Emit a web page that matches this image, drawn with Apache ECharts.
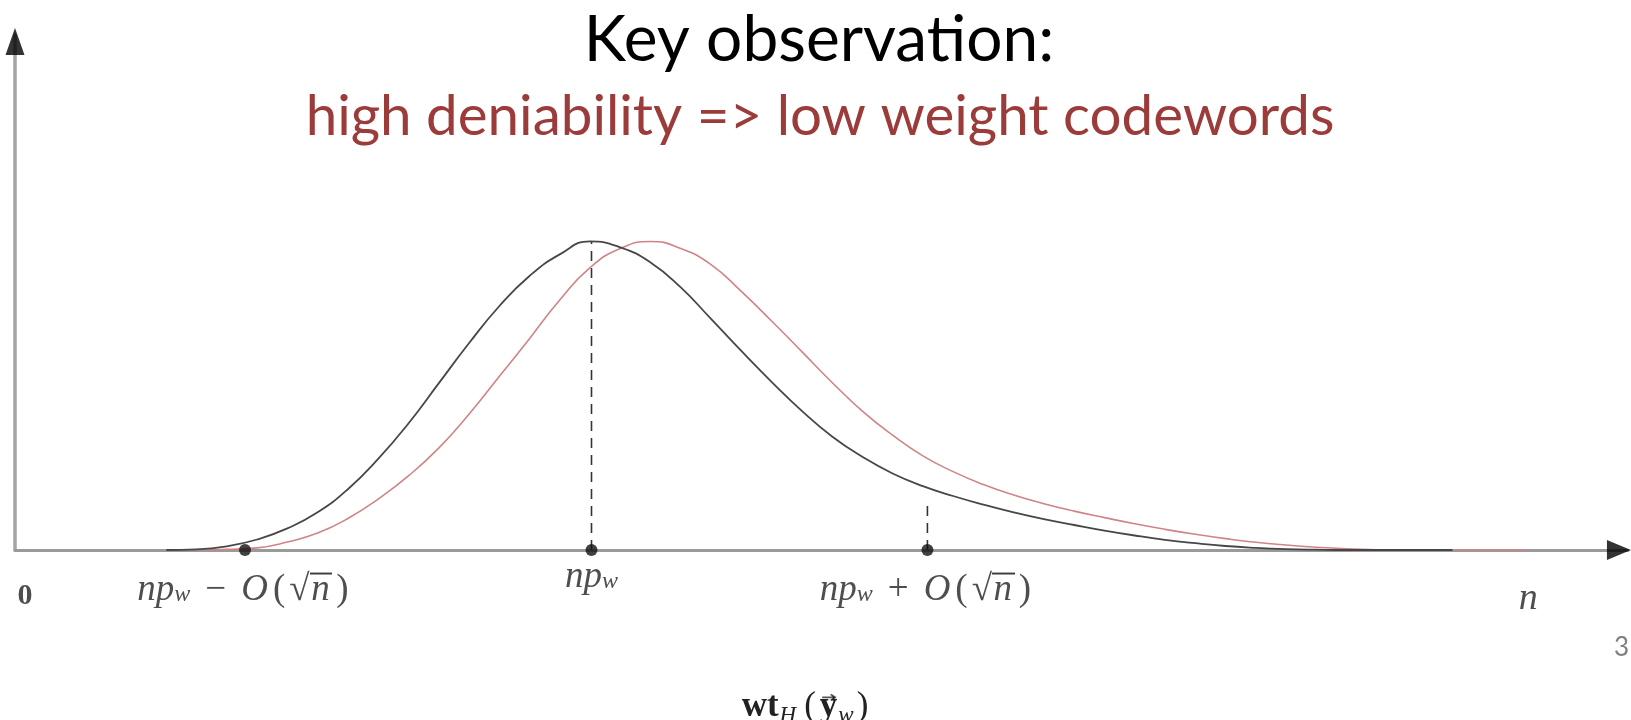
<!DOCTYPE html>
<html>
<head>
<meta charset="utf-8">
<script src="https://cdn.jsdelivr.net/npm/echarts@6/dist/echarts.min.js"></script>
<style>
  html, body { margin: 0; padding: 0; background: #ffffff; }
  #main { width: 1631px; height: 720px; }
</style>
</head>
<body>
<div id="main"></div>
<script>
// Hamming-weight distribution of the received word without (black) and with (red) a codeword
const blackX = [10, 12, 14, 16, 18, 20, 22, 24, 26, 28, 30, 32, 34, 36, 38, 40, 42, 44, 46, 48, 50, 52, 54, 56, 58, 60, 62, 64, 66, 68, 70, 72, 74, 76, 78, 80, 82, 84, 86, 88, 95];
const blackY = [0, 0.002, 0.012, 0.034, 0.070, 0.122, 0.197, 0.295, 0.410, 0.540, 0.670, 0.790, 0.888, 0.958, 1.0, 0.981, 0.932, 0.851, 0.749, 0.645, 0.545, 0.451, 0.368, 0.302, 0.248, 0.207, 0.175, 0.147, 0.122, 0.100, 0.081, 0.063, 0.047, 0.033, 0.022, 0.013, 0.007, 0.003, 0.001, 0, 0];
const redX = [10, 12, 14, 16, 18, 20, 22, 24, 26, 28, 30, 32, 34, 36, 38, 40, 42, 44, 46, 48, 50, 52, 54, 56, 58, 60, 62, 64, 66, 68, 70, 72, 74, 76, 78, 80, 82, 84, 86, 88, 90, 92, 100];
const redY = [0, 0, 0.002, 0.007, 0.026, 0.055, 0.102, 0.165, 0.240, 0.330, 0.440, 0.562, 0.685, 0.810, 0.915, 0.977, 1.0, 0.977, 0.925, 0.838, 0.742, 0.643, 0.543, 0.450, 0.372, 0.305, 0.254, 0.212, 0.178, 0.150, 0.126, 0.105, 0.085, 0.067, 0.051, 0.037, 0.025, 0.016, 0.009, 0.004, 0.001, 0, 0];

// Marked weights on the horizontal axis and their labels
const markX = [15.2, 38.1, 60.3];
const markLabels = [
  '{i|np}{s|w}{op|−}{c|O}{p|(}{r|√}{o|n}{p|)}',
  '{i|np}{s|w}',
  '{i|np}{s|w}{op|+}{c|O}{p|(}{r|√}{o|n}{p|)}'
];
// Dashed guides: x position and height reached
const guideX = [38.1, 60.3];
const guideTop = [1.0, 0.152];

// Ends of the horizontal axis
const endX = [0, 100];
const endLabels = ['0', 'n'];

const titleText = 'Key observation:';
const subtitleText = 'high deniability => low weight codewords';
const axisName = '{b|wt}{h|H}{p|(}{y|y}{s|w}{p|)}';
const pageNumber = '3';

const X_MAX = 106.6;
const Y_MAX = 1.669;

const serif = 'Liberation Serif';
const ink = '#222';

// Small stretched images used as an overline (for the square root) and a vector arrow
function overlineImage(h, y0, thick) {
  const c = document.createElement('canvas');
  c.width = 20; c.height = h;
  const g = c.getContext('2d');
  g.fillStyle = ink;
  g.fillRect(0, y0, 20, thick);
  return c;
}
function arrowImage(w, h, y0) {
  const c = document.createElement('canvas');
  c.width = w; c.height = h;
  const g = c.getContext('2d');
  g.strokeStyle = ink; g.lineWidth = 1.6;
  g.beginPath();
  g.moveTo(3, y0); g.lineTo(w - 3, y0);
  g.moveTo(w - 7, y0 - 3.5); g.lineTo(w - 3, y0); g.lineTo(w - 7, y0 + 3.5);
  g.stroke();
  return c;
}

const LH = 34;
const FS = 37;
const mathRich = {
  i: { fontFamily: serif, fontStyle: 'italic', fontSize: FS, lineHeight: LH, verticalAlign: 'middle', color: ink },
  c: { fontFamily: serif, fontStyle: 'italic', fontSize: FS, lineHeight: LH, verticalAlign: 'middle', color: ink, padding: [0, 1, 0, 0] },
  r: { fontFamily: serif, fontSize: FS, lineHeight: LH, verticalAlign: 'middle', color: ink },
  p: { fontFamily: serif, fontSize: FS, lineHeight: LH, verticalAlign: 'middle', color: ink, padding: [0, 4, 0, 4] },
  op: { fontFamily: serif, fontSize: FS, lineHeight: LH, verticalAlign: 'middle', color: ink, padding: [0, 15, 0, 15] },
  o: {
    fontFamily: serif, fontStyle: 'italic', fontSize: FS, lineHeight: LH, verticalAlign: 'middle', color: ink,
    padding: [0, 1, 0, 0],
    backgroundColor: { image: overlineImage(LH, 1, 1.6) }
  },
  s: { fontFamily: serif, fontStyle: 'italic', fontSize: 24, lineHeight: LH, verticalAlign: 'bottom', color: ink }
};

const pairs = (xs, ys) => xs.map((x, k) => [x, ys[k]]);

const chart = echarts.init(document.getElementById('main'), null, { renderer: 'canvas' });

const markData = markX.map((x, k) => ({
  value: [x, 0],
  label: { formatter: markLabels[k], offset: [0, k === 1 ? 2 : 15] }
}));

const guideSeries = guideX.map((x, k) => ({
  type: 'line',
  data: [[x, 0], [x, guideTop[k]]],
  symbol: 'none',
  silent: true,
  z: 3,
  lineStyle: { color: '#333', width: 1.6, type: [10, 7] }
}));

const NLH = 40;
const NFS = 35;
chart.setOption({
  animation: false,
  backgroundColor: '#ffffff',
  title: [
    {
      text: titleText,
      left: 814, top: 3, textAlign: 'center',
      textStyle: { fontFamily: 'Lato', fontWeight: 'normal', fontSize: 64, color: '#000' }
    },
    {
      text: subtitleText,
      left: 815, top: 83, textAlign: 'center',
      textStyle: { fontFamily: 'Lato', fontWeight: 'normal', fontSize: 56.5, color: '#9b3b3a' }
    }
  ],
  graphic: [{
    type: 'text', left: 1614, top: 635,
    style: { text: pageNumber, fontFamily: 'Lato', fontSize: 26, fill: '#7f7f7f' }
  }],
  grid: { left: 15, right: 3, top: 35, bottom: 170, containLabel: false, outerBoundsMode: 'none' },
  xAxis: {
    type: 'value', min: 0, max: X_MAX,
    axisLine: { show: true, onZero: false, lineStyle: { color: '#9a9a9a', width: 3 } },
    axisTick: { show: false }, axisLabel: { show: false }, splitLine: { show: false },
    name: axisName, nameLocation: 'middle', nameGap: 137,
    nameTextStyle: {
      padding: [0, 30, 0, 0],
      rich: {
        b: { fontFamily: serif, fontWeight: 'bold', fontSize: NFS, lineHeight: NLH, verticalAlign: 'middle', color: ink, padding: [0, 1, 0, 0] },
        y: {
          fontFamily: serif, fontWeight: 'bold', fontSize: NFS, lineHeight: NLH, verticalAlign: 'middle', color: ink,
          padding: [0, 1, 0, 1],
          backgroundColor: { image: arrowImage(18, NLH, 9) }
        },
        p: { fontFamily: serif, fontSize: NFS, lineHeight: NLH, verticalAlign: 'middle', color: ink, padding: [0, 3, 0, 3] },
        h: { fontFamily: serif, fontStyle: 'italic', fontSize: 23, lineHeight: NLH, verticalAlign: 'bottom', color: ink, padding: [0, 5, 0, 0] },
        s: { fontFamily: serif, fontStyle: 'italic', fontSize: 23, lineHeight: NLH, verticalAlign: 'bottom', color: ink }
      }
    }
  },
  yAxis: {
    type: 'value', min: 0, max: Y_MAX,
    axisLine: { show: true, onZero: false, lineStyle: { color: '#a5a5a5', width: 3.5 } },
    axisTick: { show: false }, axisLabel: { show: false }, splitLine: { show: false }
  },
  series: [
    {
      name: 'shifted', type: 'line', smooth: 0.5, symbol: 'none', z: 4,
      data: pairs(redX, redY),
      lineStyle: { color: '#d08486', width: 1.6 }
    },
    {
      name: 'received', type: 'line', smooth: 0.5, symbol: 'none', z: 5,
      data: pairs(blackX, blackY),
      lineStyle: { color: '#474747', width: 1.8 }
    },
    ...guideSeries,
    {
      name: 'marks', type: 'scatter', symbol: 'circle', symbolSize: 12, z: 6,
      itemStyle: { color: '#111' },
      data: markData,
      label: { show: true, position: 'bottom', distance: 2, rich: mathRich }
    },
    {
      name: 'ends', type: 'scatter', symbolSize: 0, z: 6,
      data: endX.map((x, k) => ({
        value: [x, 0],
        label: {
          formatter: endLabels[k],
          offset: k === 0 ? [10, 46] : [0, 49],
          fontFamily: serif,
          fontStyle: k === 0 ? 'normal' : 'italic',
          fontWeight: k === 0 ? 'bold' : 'normal',
          fontSize: k === 0 ? 30 : 38,
          color: ink
        }
      })),
      label: { show: true, position: 'inside' }
    },
    {
      name: 'arrows', type: 'scatter', symbol: 'triangle', z: 7,
      itemStyle: { color: '#000' },
      clip: false,
      data: [
        { value: [0, 1.648], symbolSize: [19, 27] },
        { value: [106.0, 0], symbolSize: [20, 24], symbolRotate: -90 }
      ]
    }
  ]
});
</script>
</body>
</html>
